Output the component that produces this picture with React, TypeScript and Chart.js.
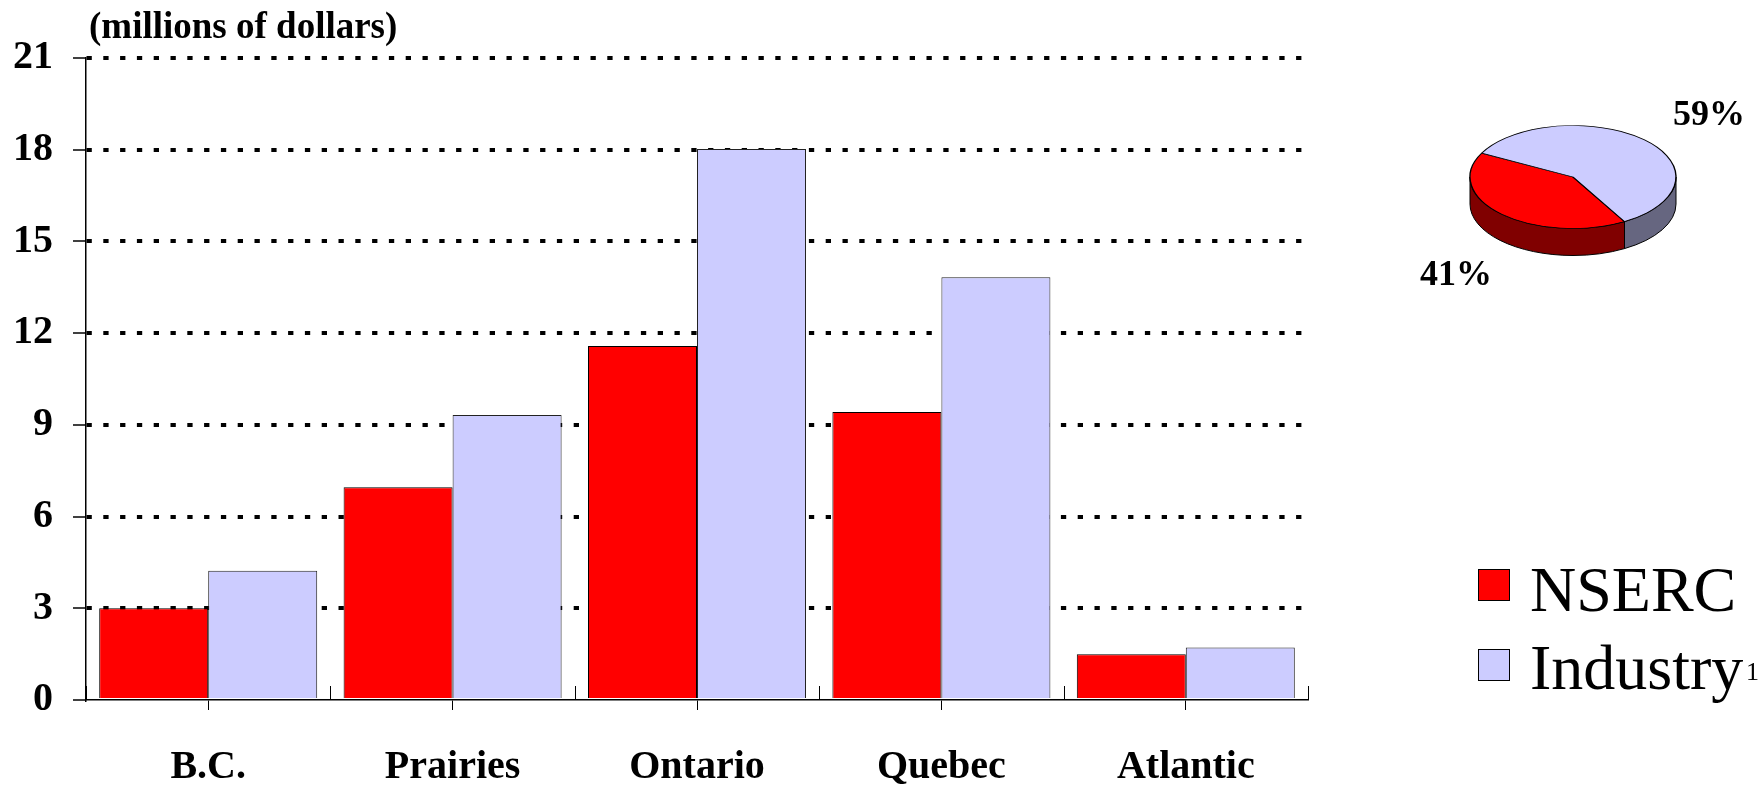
import React, { useEffect, useRef } from 'react';
import { Chart, registerables } from 'chart.js';

Chart.register(...registerables);

// ---- data ----
const categories = ['B.C.', 'Prairies', 'Ontario', 'Quebec', 'Atlantic'];
const nsercValues = [3.0, 6.96, 11.58, 9.42, 1.5];
const industryValues = [4.23, 9.32, 18.02, 13.83, 1.72];
const yTickValues = [0, 3, 6, 9, 12, 15, 18, 21];
const seriesNames = ['NSERC', 'Industry'];
const pieShares = [41, 59];
const pieLabels = ['41%', '59%'];
const axisTitle = '(millions of dollars)';

const FONT = "'Liberation Serif', 'Times New Roman', serif";
const RED = '#FF0000';
const BLUE = '#CCCCFF';
const SIDE_COLORS = ['#800000', '#666680'];
const SY = 0.5;
const DEPTH = 27;

const boundaryTicks = {
  id: 'boundaryTicks',
  afterDatasetsDraw(chart: any) {
    const xs = chart.scales.x;
    const { ctx, chartArea } = chart;
    const n = categories.length;
    const step = xs.getPixelForValue(1) - xs.getPixelForValue(0);
    const start = xs.getPixelForValue(0) - step / 2;
    ctx.save();
    ctx.strokeStyle = '#000';
    ctx.lineWidth = 1;
    for (let i = 0; i <= n; i++) {
      const x = Math.round(start + i * step) + 0.5;
      ctx.beginPath();
      ctx.moveTo(x, chartArea.bottom);
      ctx.lineTo(x, chartArea.bottom - 14);
      ctx.stroke();
    }
    ctx.restore();
  },
};

const pie3d = {
  id: 'pie3d',
  beforeDatasetsDraw(chart: any) {
    const { ctx } = chart;
    const arcs = chart.getDatasetMeta(0).data;
    ctx.save();
    if (!arcs.length) return;
    const cx = arcs[0].x;
    const cy = arcs[0].y;
    const r = arcs[0].outerRadius;
    const ry = r * SY;
    arcs.forEach((arc: any, i: number) => {
      const s = arc.startAngle;
      const e = arc.endAngle;
      for (const k of [-2, 0, 2, 4]) {
        const lo = Math.max(s, k * Math.PI);
        const hi = Math.min(e, (k + 1) * Math.PI);
        if (hi <= lo) continue;
        ctx.beginPath();
        ctx.ellipse(cx, cy, r, ry, 0, lo, hi, false);
        ctx.lineTo(cx + r * Math.cos(hi), cy + ry * Math.sin(hi) + DEPTH);
        ctx.ellipse(cx, cy + DEPTH, r, ry, 0, hi, lo, true);
        ctx.closePath();
        ctx.fillStyle = SIDE_COLORS[i];
        ctx.fill();
        ctx.strokeStyle = '#000';
        ctx.lineWidth = 1;
        ctx.stroke();
      }
    });
    ctx.translate(0, cy);
    ctx.scale(1, SY);
    ctx.translate(0, -cy);
  },
  afterDatasetsDraw(chart: any) {
    chart.ctx.restore();
  },
};

export default function App() {
  const barRef = useRef<HTMLCanvasElement>(null);
  const pieRef = useRef<HTMLCanvasElement>(null);

  useEffect(() => {
    const bar = new Chart(barRef.current!, {
      type: 'bar',
      data: {
        labels: categories,
        datasets: [
          {
            label: seriesNames[0],
            data: nsercValues,
            backgroundColor: RED,
            borderColor: '#000',
            borderWidth: 1,
            categoryPercentage: 0.892,
            barPercentage: 1,
          },
          {
            label: seriesNames[1],
            data: industryValues,
            backgroundColor: BLUE,
            borderColor: '#222',
            borderWidth: 1,
            categoryPercentage: 0.892,
            barPercentage: 1,
          },
        ],
      },
      options: {
        animation: false,
        responsive: true,
        maintainAspectRatio: false,
        layout: { padding: { top: 58, right: 450, left: 0, bottom: 0 } },
        plugins: { legend: { display: false }, tooltip: { enabled: false } },
        scales: {
          x: {
            grid: { offset: false, drawOnChartArea: false, tickLength: 10, color: '#000', lineWidth: 1 },
            border: { display: true, color: '#000', width: 1.5, z: 1 },
            ticks: {
              color: '#000',
              font: { family: FONT, size: 40, weight: 'bold' },
              padding: 34,
              maxRotation: 0,
              autoSkip: false,
            },
            afterFit: (s: any) => {
              s.height = 87;
            },
          },
          y: {
            min: 0,
            max: 21,
            ticks: {
              stepSize: 3,
              color: '#000',
              font: { family: FONT, size: 40, weight: 'bold' },
              padding: 20,
            },
            afterBuildTicks: (s: any) => {
              s.ticks = yTickValues.map((v) => ({ value: v }));
            },
            grid: {
              color: (c: any) => (c.tick && c.tick.value === 0 ? 'rgba(0,0,0,0)' : '#000'),
              lineWidth: 4,
              tickLength: 13,
              tickColor: '#000',
              tickWidth: 1.5,
              tickBorderDash: [],
            },
            border: { display: true, color: '#000', width: 1.5, dash: [5.3, 11.5], z: 1 },
            afterFit: (s: any) => {
              s.width = 86;
            },
          },
        },
      },
      plugins: [boundaryTicks],
    } as any);

    const pie = new Chart(pieRef.current!, {
      type: 'pie',
      data: {
        labels: seriesNames,
        datasets: [
          {
            data: pieShares,
            backgroundColor: [RED, BLUE],
            borderColor: '#000',
            borderWidth: 1.4,
          },
        ],
      },
      options: {
        animation: false,
        responsive: true,
        maintainAspectRatio: false,
        rotation: 150,
        radius: 103,
        plugins: { legend: { display: false }, tooltip: { enabled: false } },
      },
      plugins: [pie3d],
    } as any);

    return () => {
      bar.destroy();
      pie.destroy();
    };
  }, []);

  const txt = (extra: React.CSSProperties): React.CSSProperties => ({
    position: 'absolute',
    fontFamily: FONT,
    lineHeight: 1,
    color: '#000',
    whiteSpace: 'nowrap',
    ...extra,
  });

  return (
    <div style={{ position: 'fixed', left: 0, top: 0, width: 1758, height: 787, background: '#fff', overflow: 'hidden' }}>
      <div style={{ position: 'absolute', left: 0, top: 0, width: 1758, height: 787 }}>
        <canvas ref={barRef} />
      </div>
      <div style={{ position: 'absolute', left: 1443, top: 47, width: 260, height: 260 }}>
        <canvas ref={pieRef} />
      </div>
      <div style={txt({ left: 89, top: 7, fontSize: 37, fontWeight: 'bold' })}>{axisTitle}</div>
      <div style={txt({ left: 1673, top: 95, fontSize: 36, fontWeight: 'bold' })}>{pieLabels[1]}</div>
      <div style={txt({ left: 1420, top: 255, fontSize: 36, fontWeight: 'bold' })}>{pieLabels[0]}</div>
      <div style={{ position: 'absolute', left: 1478, top: 569, width: 30, height: 30, background: RED, border: '1.5px solid #000' }} />
      <div style={{ position: 'absolute', left: 1478, top: 649, width: 30, height: 30, background: BLUE, border: '1.5px solid #000' }} />
      <div style={txt({ left: 1530, top: 558, fontSize: 64 })}>{seriesNames[0]}</div>
      <div style={txt({ left: 1530, top: 636, fontSize: 64 })}>{seriesNames[1]}</div>
      <div style={txt({ left: 1746, top: 659, fontSize: 26 })}>1</div>
    </div>
  );
}
